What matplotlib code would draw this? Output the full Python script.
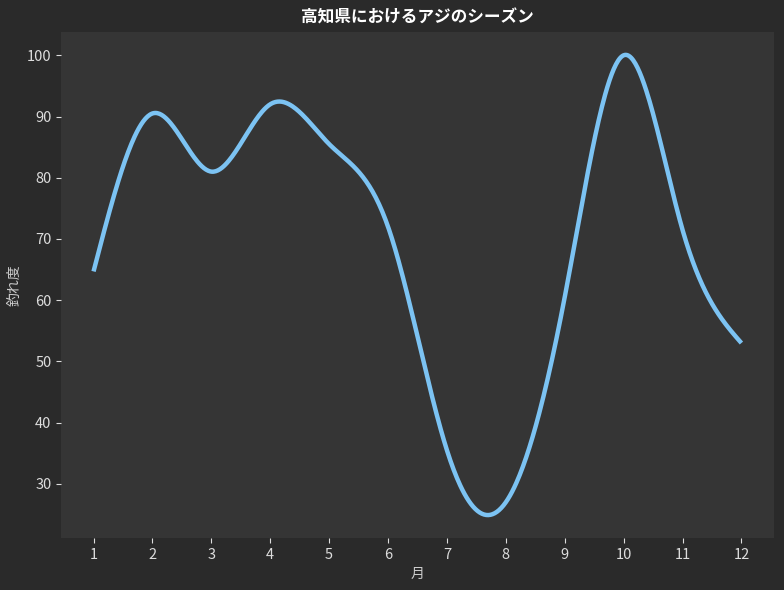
import numpy as np
import matplotlib
matplotlib.use("Agg")
import matplotlib.pyplot as plt

months = [1, 2, 3, 4, 5, 6, 7, 8, 9, 10, 11, 12]
score = [64.7, 90.5, 81.0, 92.0, 85.5, 72.0, 35.5, 27.0, 60.5, 100.0, 71.5, 53.0]

title = "高知県におけるアジのシーズン"
xlabel = "月"
ylabel = "釣れ度"

plt.rcParams["font.family"] = ["Noto Sans CJK JP", "DejaVu Sans"]


def spline_curve(x, y, n=600):
    # natural cubic spline through the monthly points
    x = np.asarray(x, float)
    y = np.asarray(y, float)
    m = len(x)
    h = np.diff(x)
    A = np.zeros((m, m))
    b = np.zeros(m)
    A[0, 0] = 1
    A[-1, -1] = 1
    for i in range(1, m - 1):
        A[i, i - 1] = h[i - 1]
        A[i, i] = 2 * (h[i - 1] + h[i])
        A[i, i + 1] = h[i]
        b[i] = 6 * ((y[i + 1] - y[i]) / h[i] - (y[i] - y[i - 1]) / h[i - 1])
    M = np.linalg.solve(A, b)
    xs = np.linspace(x[0], x[-1], n)
    idx = np.clip(np.searchsorted(x, xs) - 1, 0, m - 2)
    t0 = x[idx + 1] - xs
    t1 = xs - x[idx]
    hi = h[idx]
    ys = (M[idx] * t0 ** 3 / (6 * hi) + M[idx + 1] * t1 ** 3 / (6 * hi)
          + (y[idx] / hi - M[idx] * hi / 6) * t0
          + (y[idx + 1] / hi - M[idx + 1] * hi / 6) * t1)
    return xs, ys


xs, ys = spline_curve(months, score)

fig, ax = plt.subplots(figsize=(7.84, 5.9), dpi=100)
fig.patch.set_facecolor("#2a2a2a")
ax.set_facecolor("#353535")
ax.plot(xs, ys, color="#7cc3f3", linewidth=3.2, solid_capstyle="butt")

ax.set_xticks(months)
ax.set_yticks([30, 40, 50, 60, 70, 80, 90, 100])
for s in ax.spines.values():
    s.set_visible(False)
ax.tick_params(colors="#dddddd", labelsize=10.5, length=3.5)
ax.set_title(title, color="white", fontsize=12, fontweight="bold", pad=7)
ax.set_xlabel(xlabel, color="#cccccc", fontsize=10)
ax.set_ylabel(ylabel, color="#cccccc", fontsize=10)

fig.subplots_adjust(left=0.078, right=0.987, top=0.946, bottom=0.088)
fig.savefig("out.png", dpi=100, facecolor=fig.get_facecolor())
